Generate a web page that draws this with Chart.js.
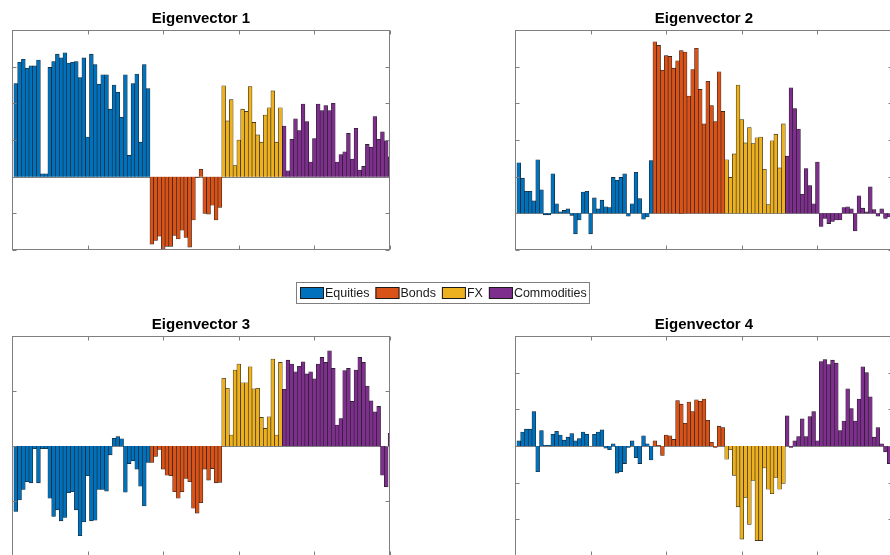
<!DOCTYPE html>
<html>
<head>
<meta charset="utf-8">
<title>Eigenvectors</title>
<script src="https://cdn.jsdelivr.net/npm/chart.js@4.4.0/dist/chart.umd.min.js"></script>
<style>
    html, body { margin: 0; padding: 0; background: #fff; overflow: hidden; }
    #fig { position: relative; width: 890px; height: 555px; overflow: hidden; }
    #fig canvas { position: absolute; }
</style>
</head>
<body>
<div id="fig">
    <canvas id="ev1" width="402" height="262" style="left:0;top:0"></canvas>
    <canvas id="ev2" width="402" height="262" style="left:503px;top:0"></canvas>
    <canvas id="ev3" width="402" height="262" style="left:0;top:306px"></canvas>
    <canvas id="ev4" width="402" height="262" style="left:503px;top:306px"></canvas>
    <canvas id="leg" width="310" height="30" style="left:288px;top:278px"></canvas>
</div>
<script>
/* ===== groups ===== */
const groups = ["Equities", "Bonds", "FX", "Commodities"];
const groupColors = ["#0072BD", "#D95319", "#EDB120", "#7E2F8E"];

/* ===== eigenvector 1 ===== */
const eq1 = [0.127,0.156,0.160,0.148,0.151,0.151,0.159,0.004,0.004,0.149,0.157,0.167,0.162,0.169,0.155,0.156,0.157,0.135,0.162,0.054,0.167,0.153,0.126,0.139,0.139,0.092,0.125,0.115,0.081,0.139,0.029,0.127,0.140,0.047,0.153,0.120];
const bd1 = [-0.092,-0.087,-0.081,-0.099,-0.095,-0.095,-0.080,-0.085,-0.073,-0.083,-0.096,-0.059,-0.001,0.010,-0.050,-0.051,-0.039,-0.059,-0.042];
const fx1 = [0.124,0.076,0.105,0.015,0.050,0.092,0.089,0.123,0.074,0.057,0.047,0.084,0.094,0.117,0.047,0.094];
const cm1 = [0.069,0.008,0.051,0.079,0.063,0.099,0.075,0.020,0.052,0.099,0.090,0.097,0.090,0.100,0.020,0.030,0.034,0.059,0.024,0.066,0.009,0.014,0.044,0.040,0.082,0.051,0.061,0.049,0.027];

/* ===== eigenvector 2 ===== */
const eq2 = [0.069,0.048,0.030,0.030,0.017,0.073,0.032,-0.002,-0.002,0.054,0.013,0.002,0.004,0.006,-0.003,-0.028,-0.009,0.029,0.030,-0.028,0.021,0.006,0.018,0.009,0.008,0.049,0.045,0.049,0.054,-0.004,0.013,0.056,0.020,-0.008,-0.005,0.072];
const bd2 = [0.234,0.229,0.195,0.215,0.214,0.198,0.208,0.222,0.220,0.160,0.196,0.225,0.169,0.122,0.180,0.147,0.125,0.193,0.139];
const fx2 = [0.073,0.049,0.081,0.175,0.128,0.096,0.117,0.095,0.103,0.104,0.060,0.012,0.099,0.108,0.062,0.122];
const cm2 = [0.078,0.171,0.143,0.115,0.026,0.061,0.038,0.013,0.070,-0.018,-0.007,-0.014,-0.011,-0.009,-0.009,0.008,0.009,0.006,-0.024,0.024,0.007,0.002,0.036,0.005,-0.004,0.006,-0.007,-0.005,-0.004];

/* ===== eigenvector 3 ===== */
const eq3 = [-0.119,-0.098,-0.079,-0.065,-0.067,-0.005,-0.067,-0.005,-0.005,-0.095,-0.128,-0.116,-0.136,-0.130,-0.085,-0.083,-0.116,-0.163,-0.138,-0.054,-0.136,-0.135,-0.079,-0.079,-0.082,-0.016,0.014,0.017,0.013,-0.084,-0.032,-0.027,-0.042,-0.073,-0.109,-0.030];
const bd3 = [-0.030,-0.019,-0.006,-0.042,-0.053,-0.054,-0.083,-0.095,-0.083,-0.059,-0.065,-0.113,-0.122,-0.103,-0.042,-0.062,-0.041,-0.067,-0.066];
const fx3 = [0.123,0.105,0.020,0.138,0.149,0.115,0.115,0.144,0.104,0.105,0.052,0.032,0.053,0.158,0.020,0.152];
const cm3 = [0.103,0.156,0.149,0.135,0.145,0.153,0.131,0.135,0.122,0.149,0.161,0.152,0.173,0.141,0.038,0.050,0.137,0.141,0.081,0.138,0.161,0.152,0.109,0.082,0.062,0.072,-0.053,-0.074,0.023];

/* ===== eigenvector 4 ===== */
const eq4 = [0.007,0.019,0.023,0.023,0.047,-0.035,0.021,0.001,0.001,0.016,0.020,0.015,0.008,0.012,0.017,0.007,0.010,0.019,0.016,0.000,0.016,0.019,0.022,-0.003,-0.005,0.003,-0.037,-0.035,-0.024,-0.002,0.007,-0.016,-0.024,0.014,0.003,-0.019];
const bd4 = [0.007,0.001,-0.013,0.015,0.014,0.009,0.062,0.057,0.031,0.060,0.047,0.063,0.061,0.064,0.035,0.005,-0.002,0.027,0.025];
const fx4 = [-0.018,-0.005,-0.040,-0.083,-0.127,-0.070,-0.107,-0.047,-0.129,-0.129,-0.030,-0.059,-0.065,-0.043,-0.059,-0.051];
const cm4 = [0.041,-0.002,0.007,0.013,0.037,0.013,0.040,0.047,0.007,0.115,0.118,0.111,0.117,0.113,0.021,0.034,0.078,0.051,0.034,0.064,0.108,0.100,0.067,0.012,0.025,0.003,-0.008,-0.024,-0.010];

/* ===== axes ===== */
const titles = ["Eigenvector 1", "Eigenvector 2", "Eigenvector 3", "Eigenvector 4"];
const xTicks = [0, 20, 40, 60, 80, 100];
const yMins = [-0.1, -0.05, -0.2, -0.15];
const yMaxs = [0.2, 0.25, 0.2, 0.15];
const ySteps = [0.05, 0.05, 0.1, 0.05];

const FONT = "'Liberation Sans', Arial, Helvetica, sans-serif";
const AXIS_GRAY = "#7f7f7f";
const EDGE = "#1a1a1a";
const TICK_LEN = 4;

// caixa + marcas para dentro, estilo MATLAB
const boxTicks = {
    id: "boxTicks",
    beforeDatasetsDraw(chart) {
        const { ctx, chartArea: a, scales: { y } } = chart;
        const y0 = Math.round(y.getPixelForValue(0)) + 0.5;
        ctx.save();
        ctx.strokeStyle = AXIS_GRAY;
        ctx.lineWidth = 1;
        ctx.beginPath();
        ctx.moveTo(a.left, y0);
        ctx.lineTo(a.right, y0);
        ctx.stroke();
        ctx.restore();
    },
    afterDatasetsDraw(chart) {
        const { ctx, chartArea: a, scales: { x, y } } = chart;
        const L = Math.round(a.left) + 0.5, R = Math.round(a.right) - 0.5;
        const T = Math.round(a.top) + 0.5, B = Math.round(a.bottom) - 0.5;
        ctx.save();
        ctx.strokeStyle = AXIS_GRAY;
        ctx.lineWidth = 1;
        ctx.strokeRect(L, T, R - L, B - T);
        ctx.beginPath();
        x.ticks.forEach(t => {
            const px = Math.round(x.getPixelForValue(t.value)) + 0.5;
            ctx.moveTo(px, T); ctx.lineTo(px, T + TICK_LEN);
            ctx.moveTo(px, B); ctx.lineTo(px, B - TICK_LEN);
        });
        y.ticks.forEach(t => {
            const py = Math.round(y.getPixelForValue(t.value)) + 0.5;
            ctx.moveTo(L, py); ctx.lineTo(L + TICK_LEN, py);
            ctx.moveTo(R, py); ctx.lineTo(R - TICK_LEN, py);
        });
        ctx.stroke();
        ctx.restore();
    }
};

function makePanel(id, k, series) {
    let offset = 0;
    const datasets = series.map((vals, g) => {
        const start = offset;
        offset += vals.length;
        return {
            label: groups[g],
            data: vals.map((v, i) => ({ x: start + i + 1, y: v })),
            backgroundColor: groupColors[g],
            borderColor: EDGE,
            borderWidth: 0.6,
            barPercentage: 1,
            categoryPercentage: 1,
            grouped: false,
            clip: 0
        };
    });

    new Chart(document.getElementById(id), {
        type: "bar",
        data: { datasets },
        options: {
            responsive: false,
            animation: false,
            devicePixelRatio: 1,
            events: [],
            layout: { padding: { left: 12, right: 12, top: 6, bottom: 12 } },
            plugins: {
                legend: { display: false },
                tooltip: { enabled: false },
                title: {
                    display: true,
                    text: titles[k],
                    color: "#000",
                    font: { family: FONT, size: 15, weight: "bold" },
                    padding: { top: 4, bottom: 2 }
                }
            },
            scales: {
                x: {
                    type: "linear",
                    display: false,
                    offset: false,
                    min: xTicks[0],
                    max: xTicks[xTicks.length - 1],
                    ticks: { stepSize: xTicks[1] - xTicks[0] }
                },
                y: {
                    display: false,
                    min: yMins[k],
                    max: yMaxs[k],
                    ticks: { stepSize: ySteps[k] }
                }
            }
        },
        plugins: [boxTicks]
    });
}

makePanel("ev1", 0, [eq1, bd1, fx1, cm1]);
makePanel("ev2", 1, [eq2, bd2, fx2, cm2]);
makePanel("ev3", 2, [eq3, bd3, fx3, cm3]);
makePanel("ev4", 3, [eq4, bd4, fx4, cm4]);

/* ===== legenda (desenhada a partir dos datasets) ===== */
const legendBox = {
    id: "legendBox",
    afterDraw(chart) {
        const ctx = chart.ctx;
        const SW = 24, SH = 12, GAP_TXT = 1, GAP_ITEM = 6;
        ctx.save();
        ctx.font = "12.5px " + FONT;
        const items = chart.data.datasets.map(ds => ({
            label: ds.label,
            color: ds.backgroundColor,
            w: ctx.measureText(ds.label).width
        }));
        const total = items.reduce((s, it) => s + SW + GAP_TXT + it.w, 0) + GAP_ITEM * (items.length - 1);
        let x = Math.round((chart.width - total) / 2);
        const cy = Math.round(chart.height / 2);

        ctx.strokeStyle = AXIS_GRAY;
        ctx.lineWidth = 1;
        ctx.strokeRect(x - 3.5, cy - 10.5, Math.round(total) + 6, 21);

        ctx.textBaseline = "middle";
        ctx.textAlign = "left";
        items.forEach(it => {
            ctx.fillStyle = it.color;
            ctx.fillRect(x, cy - SH / 2, SW, SH);
            ctx.strokeStyle = EDGE;
            ctx.strokeRect(x + 0.5, cy - SH / 2 + 0.5, SW - 1, SH - 1);
            ctx.fillStyle = "#1a1a1a";
            ctx.fillText(it.label, x + SW + GAP_TXT, cy + 0.5);
            x += SW + GAP_TXT + it.w + GAP_ITEM;
        });
        ctx.restore();
    }
};

new Chart(document.getElementById("leg"), {
    type: "bar",
    data: {
        datasets: groups.map((g, i) => ({
            label: g,
            data: [],
            backgroundColor: groupColors[i],
            borderColor: EDGE,
            borderWidth: 1
        }))
    },
    options: {
        responsive: false,
        animation: false,
        devicePixelRatio: 1,
        events: [],
        scales: { x: { display: false }, y: { display: false } },
        plugins: {
            legend: { display: false },
            tooltip: { enabled: false }
        }
    },
    plugins: [legendBox]
});
</script>
</body>
</html>
